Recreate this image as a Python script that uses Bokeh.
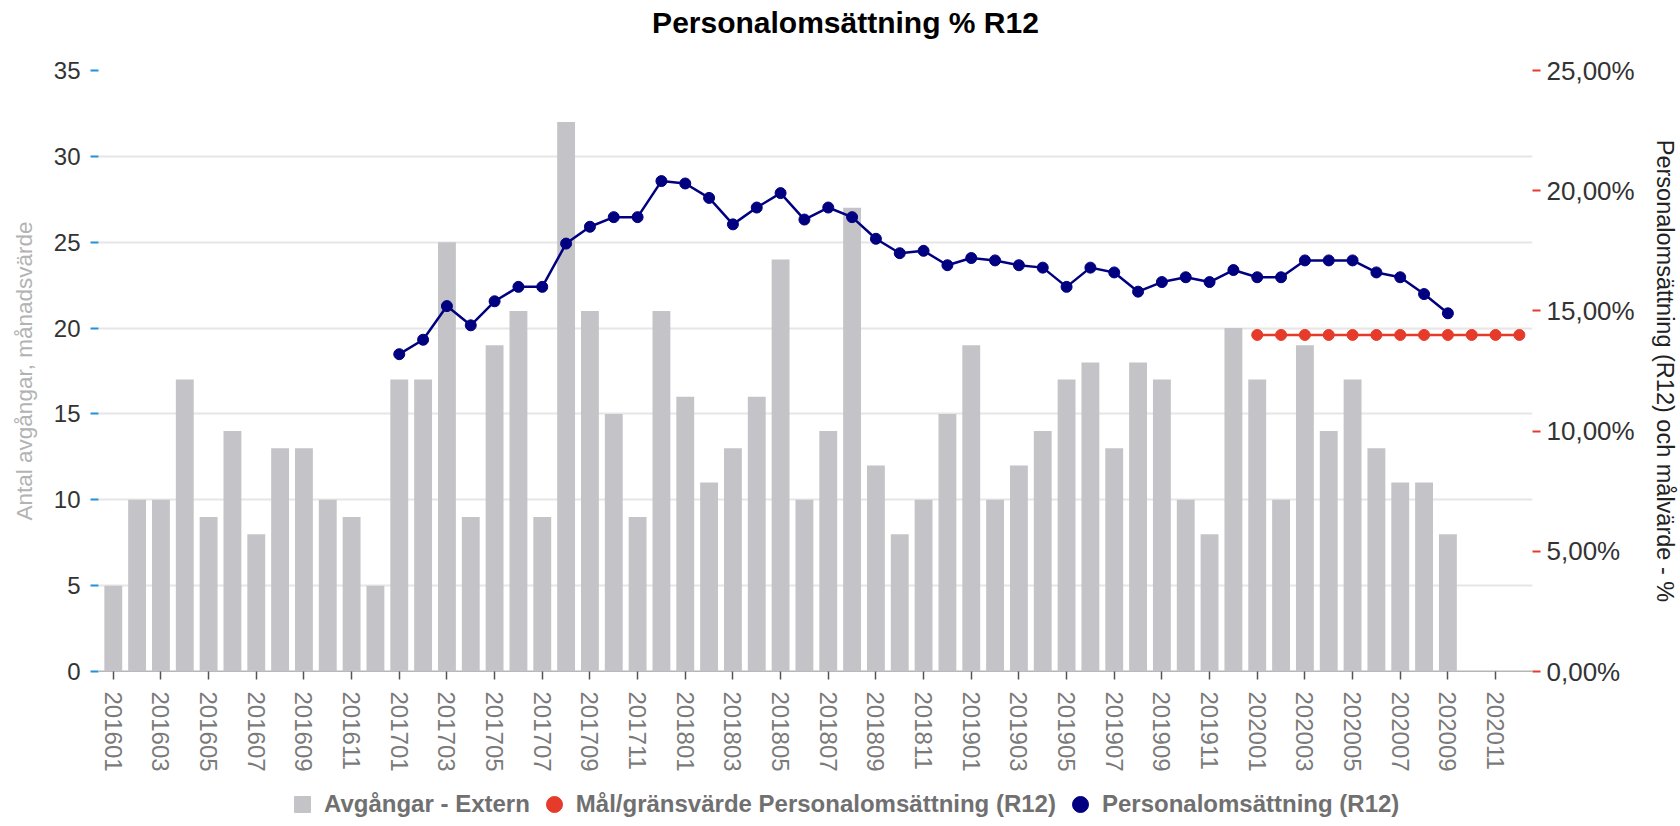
import math
from bokeh.plotting import figure
from bokeh.layouts import column
from bokeh.models import (Range1d, LinearAxis, FixedTicker, CustomJSTickFormatter, Span,
                          Legend, LegendItem, ColumnDataSource, Label)
from bokeh.embed import file_html
from bokeh.resources import INLINE

# ---------------- data ----------------
months = ["201601", "201602", "201603", "201604", "201605", "201606", "201607", "201608", "201609", "201610", "201611", "201612",
          "201701", "201702", "201703", "201704", "201705", "201706", "201707", "201708", "201709", "201710", "201711", "201712",
          "201801", "201802", "201803", "201804", "201805", "201806", "201807", "201808", "201809", "201810", "201811", "201812",
          "201901", "201902", "201903", "201904", "201905", "201906", "201907", "201908", "201909", "201910", "201911", "201912",
          "202001", "202002", "202003", "202004", "202005", "202006", "202007", "202008", "202009", "202010", "202011", "202012"]

avgangar_extern = [5, 10, 10, 17, 9, 14, 8, 13, 13, 10, 9, 5,
                   17, 17, 25, 9, 19, 21, 9, 32, 21, 15, 9, 21,
                   16, 11, 13, 16, 24, 10, 14, 27, 12, 8, 10, 15,
                   19, 10, 12, 14, 17, 18, 13, 18, 17, 10, 8, 20,
                   17, 10, 19, 14, 17, 13, 11, 11, 8, 0, 0, 0]

omsattning_months = months[12:57]   # 201701 .. 202009
omsattning_pct = [13.2, 13.8, 15.2, 14.4, 15.4, 16.0, 16.0, 17.8, 18.5, 18.9, 18.9, 20.4,
                  20.3, 19.7, 18.6, 19.3, 19.9, 18.8, 19.3, 18.9, 18.0, 17.4, 17.5, 16.9,
                  17.2, 17.1, 16.9, 16.8, 16.0, 16.8, 16.6, 15.8, 16.2, 16.4, 16.2, 16.7,
                  16.4, 16.4, 17.1, 17.1, 17.1, 16.6, 16.4, 15.7, 14.9]

malvarde_months = months[48:60]     # 202001 .. 202012
malvarde_pct = [14.0, 14.0, 14.0, 14.0, 14.0, 14.0, 14.0, 14.0, 14.0, 14.0, 14.0, 14.0]

left_ticks = [0, 5, 10, 15, 20, 25, 30, 35]
right_ticks = [0, 5, 10, 15, 20, 25]

title_text = "Personalomsättning % R12"
left_label = "Antal avgångar, månadsvärde"
right_label = "Personalomsättning (R12) och målvärde - %"
legend_labels = ["Avgångar - Extern", "Mål/gränsvärde Personalomsättning (R12)", "Personalomsättning (R12)"]

# ---------------- styles ----------------
FONT = "Liberation Sans"
BAR = "#c4c3c7"
NAVY = "#000080"
RED = "#e63a2a"
BLUE_TICK = "#2490d8"
W = 1680
H_TITLE, H_MAIN, H_LEG = 44, 736, 46
BL, BR, BT, BB = 98, 145, 26, 109


def bare(h):
    f = figure(width=W, height=h, output_backend="svg", toolbar_location=None,
               x_range=Range1d(0, 1), y_range=Range1d(0, 1),
               x_axis_location=None, y_axis_location=None,
               min_border_left=0, min_border_right=0, min_border_top=0, min_border_bottom=0)
    f.grid.visible = False
    f.outline_line_color = None
    f.background_fill_color = "white"
    f.border_fill_color = "white"
    return f


# ---------------- title strip ----------------
pt = bare(H_TITLE)
pt.add_layout(Label(x=747, y=H_TITLE - 21.5, x_units="screen", y_units="screen", text=title_text,
                    text_align="center", text_baseline="middle", text_font=FONT,
                    text_font_size="30px", text_font_style="bold", text_color="#000000"))

# ---------------- main chart ----------------
idx = {m: i for i, m in enumerate(months)}

p = figure(width=W, height=H_MAIN, output_backend="svg", toolbar_location=None,
           x_range=Range1d(-0.62, 59.55), y_range=Range1d(0, 35),
           min_border_left=BL, min_border_right=BR, min_border_top=BT, min_border_bottom=BB)
p.outline_line_color = None
p.background_fill_color = "white"
p.border_fill_color = "white"

p.xgrid.visible = False
p.ygrid.grid_line_color = "#e6e6e6"
p.ygrid.grid_line_width = 2
p.ygrid.ticker = FixedTicker(ticks=left_ticks)

# baseline (axis line under bars)
p.add_layout(Span(location=0, dimension="width", line_color="#6e6e6e", line_width=1.5, level="underlay"))

# left axis
ly = p.left[0]
ly.ticker = FixedTicker(ticks=left_ticks)
ly.axis_line_color = None
ly.major_tick_in = 0
ly.major_tick_out = 8
ly.major_tick_line_color = BLUE_TICK
ly.major_tick_line_width = 2
ly.minor_tick_line_color = None
ly.major_label_text_font = FONT
ly.major_label_text_font_size = "24px"
ly.major_label_text_color = "#333333"
ly.major_label_standoff = 10
ly.axis_label = left_label
ly.axis_label_text_font = FONT
ly.axis_label_text_font_size = "22.5px"
ly.axis_label_text_font_style = "normal"
ly.axis_label_text_color = "#b3b3b3"
ly.axis_label_standoff = 14

# bottom axis
bx = p.below[0]
bx.ticker = FixedTicker(ticks=list(range(0, len(months), 2)))
bx.major_label_overrides = {i: m for i, m in enumerate(months)}
bx.major_label_orientation = "vertical"
bx.axis_line_color = None
bx.major_tick_in = 0
bx.major_tick_out = 8
bx.major_tick_line_color = "#555555"
bx.major_tick_line_width = 1.5
bx.minor_tick_line_color = None
bx.major_label_text_font = FONT
bx.major_label_text_font_size = "24px"
bx.major_label_text_color = "#7a7a7a"
bx.major_label_standoff = 12

# right axis (ticks, labels and title)
p.extra_y_ranges = {"pct": Range1d(0, 25)}
ry = LinearAxis(y_range_name="pct", ticker=FixedTicker(ticks=right_ticks),
                formatter=CustomJSTickFormatter(code="return tick.toFixed(2).replace('.', ',') + '%';"))
ry.axis_line_color = None
ry.major_tick_in = 0
ry.major_tick_out = 8
ry.major_tick_line_color = RED
ry.major_tick_line_width = 2
ry.minor_tick_line_color = None
ry.major_label_text_font = FONT
ry.major_label_text_font_size = "26px"
ry.major_label_text_color = "#333333"
ry.major_label_standoff = 6
ry.axis_label = right_label
ry.axis_label_text_font = FONT
ry.axis_label_text_font_size = "23.5px"
ry.axis_label_text_font_style = "normal"
ry.axis_label_text_color = "#222222"
ry.axis_label_standoff = 14
try:
    ry.axis_label_orientation = "vertical"
except Exception:
    pass
p.add_layout(ry, "right")

# bars
bar_src = ColumnDataSource(dict(x=[idx[m] for m in months], top=avgangar_extern))
p.vbar(x="x", top="top", width=0.75, source=bar_src, fill_color=BAR, line_color=None)

# target line
mal_src = ColumnDataSource(dict(x=[idx[m] for m in malvarde_months], y=malvarde_pct))
p.line(x="x", y="y", source=mal_src, y_range_name="pct", line_color=RED, line_width=2.5)
p.scatter(x="x", y="y", source=mal_src, y_range_name="pct", size=11, fill_color=RED, line_color=RED)

# turnover line
oms_src = ColumnDataSource(dict(x=[idx[m] for m in omsattning_months], y=omsattning_pct))
p.line(x="x", y="y", source=oms_src, y_range_name="pct", line_color=NAVY, line_width=2.5)
p.scatter(x="x", y="y", source=oms_src, y_range_name="pct", size=11, fill_color=NAVY, line_color=NAVY)

# ---------------- legend strip ----------------
pl = bare(H_LEG)
nan = float("nan")
leg_bar = pl.scatter(x=[nan], y=[nan], marker="square", fill_color=BAR, line_color=BAR)
leg_mal = pl.scatter(x=[nan], y=[nan], marker="circle", fill_color=RED, line_color=RED)
leg_oms = pl.scatter(x=[nan], y=[nan], marker="circle", fill_color=NAVY, line_color=NAVY)
legend = Legend(items=[LegendItem(label=legend_labels[0], renderers=[leg_bar]),
                       LegendItem(label=legend_labels[1], renderers=[leg_mal]),
                       LegendItem(label=legend_labels[2], renderers=[leg_oms])],
                orientation="horizontal", location=(184, 2),
                glyph_width=40, glyph_height=40, label_standoff=2, spacing=4,
                padding=0, margin=0, border_line_color=None, background_fill_alpha=0,
                label_text_font=FONT, label_text_font_style="bold",
                label_text_font_size="24px", label_text_color="#707070")
pl.add_layout(legend, "center")

layout = column(pt, p, pl, spacing=0)
open("out.html", "w").write(file_html(layout, INLINE))
